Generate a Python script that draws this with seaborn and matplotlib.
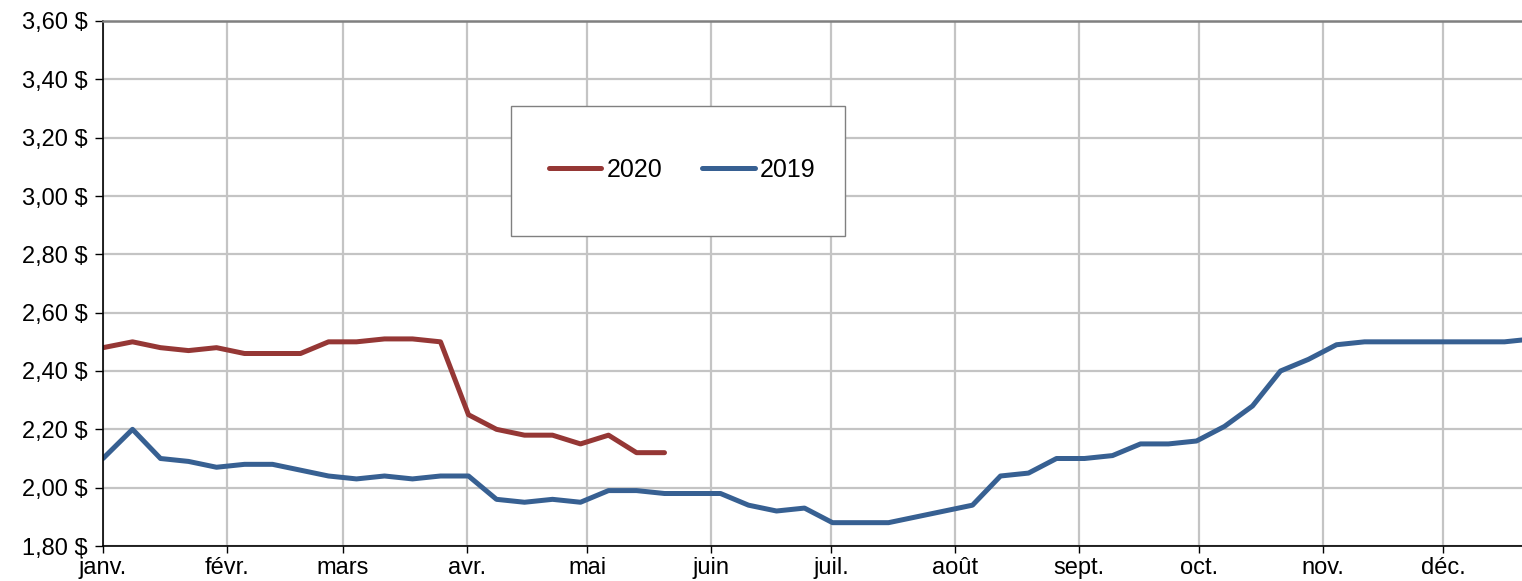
import matplotlib
matplotlib.use("Agg")
import matplotlib.pyplot as plt
from matplotlib.patches import Rectangle
from matplotlib.lines import Line2D
from matplotlib.ticker import FuncFormatter, MultipleLocator
import seaborn as sns
import pandas as pd

# ---- data ----
prix_2020 = [2.48, 2.50, 2.48, 2.47, 2.48, 2.46, 2.46, 2.46, 2.50, 2.50, 2.51,
             2.51, 2.50, 2.25, 2.20, 2.18, 2.18, 2.15, 2.18, 2.12, 2.12]
prix_2019 = [2.10, 2.20, 2.10, 2.09, 2.07, 2.08, 2.08, 2.06, 2.04, 2.03, 2.04,
             2.03, 2.04, 2.04, 1.96, 1.95, 1.96, 1.95, 1.99, 1.99, 1.98, 1.98,
             1.98, 1.94, 1.92, 1.93, 1.88, 1.88, 1.88, 1.90, 1.92, 1.94, 2.04,
             2.05, 2.10, 2.10, 2.11, 2.15, 2.15, 2.16, 2.21, 2.28, 2.40, 2.44,
             2.49, 2.50, 2.50, 2.50, 2.50, 2.50, 2.50, 2.51]
mois = ['janv.', 'févr.', 'mars', 'avr.', 'mai', 'juin', 'juil.', 'août',
        'sept.', 'oct.', 'nov.', 'déc.']
series = ['2020', '2019']
couleurs = {'2020': '#953735', '2019': '#376092'}

# weekly dates (first point Jan 1, then weekly)
semaines = [pd.Timestamp('2020-01-01')] + list(pd.date_range('2020-01-08 09:00', periods=60, freq='7D'))

df = pd.concat([
    pd.DataFrame({'date': semaines[:len(prix_2020)], 'prix': prix_2020, 'annee': '2020'}),
    pd.DataFrame({'date': semaines[:len(prix_2019)], 'prix': prix_2019, 'annee': '2019'}),
], ignore_index=True)

# ---- figure ----
sns.set_theme(style="white")
plt.rcParams['font.family'] = ['Liberation Sans', 'DejaVu Sans']
plt.rcParams['text.color'] = 'black'

W, H = 1522, 581
fig = plt.figure(figsize=(W / 100, H / 100), dpi=100)
ax = fig.add_axes([103 / W, 1 - 546 / H, (1522 - 103) / W, (546 - 21) / H])

sns.lineplot(data=df, x='date', y='prix', hue='annee', hue_order=series,
             palette=couleurs, linewidth=3.6, ax=ax, legend=False, sort=False,
             solid_capstyle='round', solid_joinstyle='round')

start = pd.Timestamp('2020-01-01')
ax.set_xlim(start, start + pd.Timedelta(days=354.75))
ax.set_ylim(1.80, 3.60)

month_starts = pd.date_range('2020-01-01', periods=12, freq='MS')
ax.set_xticks(month_starts)
ax.set_xticklabels(mois)
ax.yaxis.set_major_locator(MultipleLocator(0.20))
ax.yaxis.set_major_formatter(FuncFormatter(lambda v, p: f"{v:.2f} $".replace('.', ',')))

ax.grid(True, which='major', axis='both', color='#C4C4C4', linewidth=1.6)
ax.set_axisbelow(True)
ax.set_xlabel('')
ax.set_ylabel('')

for s in ['left', 'bottom']:
    ax.spines[s].set_color('black')
    ax.spines[s].set_linewidth(1.2)
ax.spines['top'].set_color('#808080')
ax.spines['top'].set_linewidth(1.8)
ax.spines['right'].set_visible(False)

ax.tick_params(axis='y', which='major', direction='out', length=6, width=1,
               color='black', labelcolor='black', labelsize=17, pad=5, left=True)
ax.tick_params(axis='x', which='major', direction='out', length=5, width=1,
               color='black', labelcolor='black', labelsize=17, pad=3, bottom=True)

# legend box
fig.patches.append(Rectangle((511 / W, 1 - 236 / H), (845 - 511) / W, (236 - 106) / H,
                             transform=fig.transFigure, facecolor='white',
                             edgecolor='#808080', linewidth=1, zorder=5))
handles = [Line2D([0], [0], color=couleurs[s], linewidth=3.6, solid_capstyle='round')
           for s in series]
leg = fig.legend(handles, series, loc='center', bbox_to_anchor=(682 / W, 1 - 170 / H),
                 ncol=2, frameon=False, fontsize=18, handlelength=2.1,
                 handletextpad=0.2, columnspacing=1.6, labelcolor='black')
leg.set_zorder(6)

fig.savefig('out.png', dpi=100)
